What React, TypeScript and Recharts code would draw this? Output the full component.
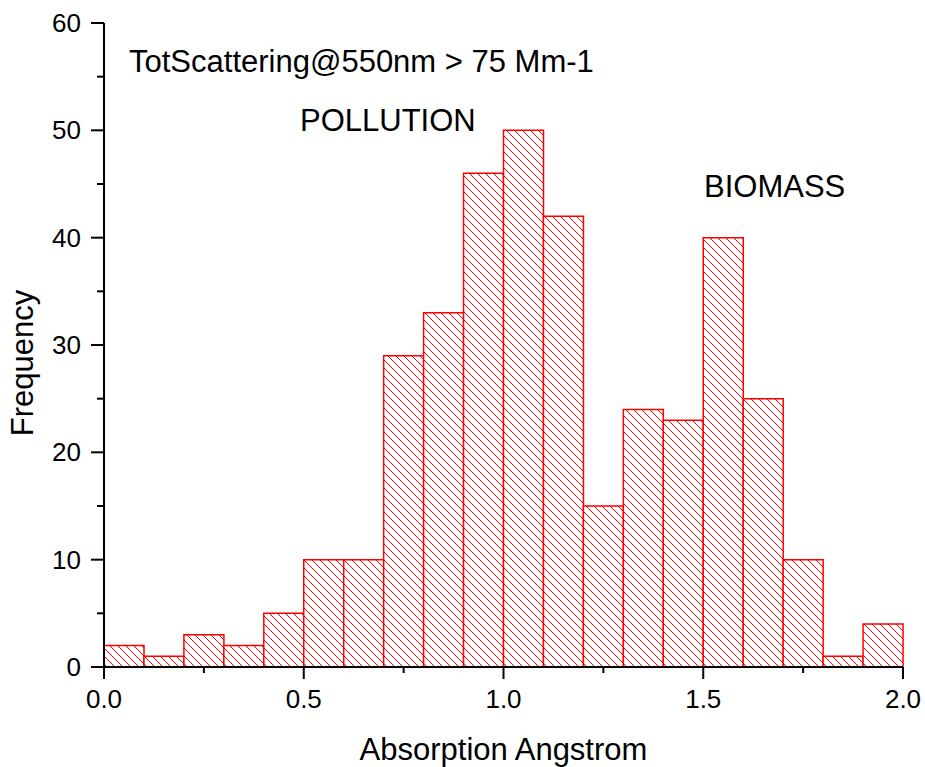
import { BarChart, Bar, XAxis, YAxis, Label } from "recharts";

// histogram bins (centre of each 0.1-wide bin) and their counts
const binCenters = [
  0.05, 0.15, 0.25, 0.35, 0.45, 0.55, 0.65, 0.75, 0.85, 0.95,
  1.05, 1.15, 1.25, 1.35, 1.45, 1.55, 1.65, 1.75, 1.85, 1.95,
];
const frequencies = [2, 1, 3, 2, 5, 10, 10, 29, 33, 46, 50, 42, 15, 24, 23, 40, 25, 10, 1, 4];

const xTicks = [0, 0.25, 0.5, 0.75, 1, 1.25, 1.5, 1.75, 2];
const yTicks = [0, 5, 10, 15, 20, 25, 30, 35, 40, 45, 50, 55, 60];

const xTitle = "Absorption Angstrom";
const yTitle = "Frequency";
const noteText = "TotScattering@550nm > 75 Mm-1";
const pollutionText = "POLLUTION";
const biomassText = "BIOMASS";

const RED = "#ff0000";
const FONT = "'Liberation Sans', Arial, sans-serif";

const data = binCenters.map((x, i) => ({ x, count: frequencies[i] }));

const isMajorX = (v: number) => Math.abs(v * 2 - Math.round(v * 2)) < 1e-6;
const isMajorY = (v: number) => v % 10 === 0;

// bottom axis: ticks point outward, labels on majors
const BottomTick = (props: any) => {
  const { x, y, payload } = props;
  const major = isMajorX(payload.value);
  return (
    <g>
      <line x1={x} x2={x} y1={y} y2={y + (major ? 12 : 6)} stroke="#000" strokeWidth={2} />
      {major && (
        <text x={x} y={y + 41} textAnchor="middle" fontSize={26} fill="#000">
          {Number(payload.value).toFixed(1)}
        </text>
      )}
    </g>
  );
};

const LeftTick = (props: any) => {
  const { x, y, payload } = props;
  const major = isMajorY(payload.value);
  return (
    <g>
      <line x1={x - (major ? 13 : 7)} x2={x} y1={y} y2={y} stroke="#000" strokeWidth={2} />
      {major && (
        <text x={x - 23} y={y + 9} textAnchor="end" fontSize={26} fill="#000">
          {payload.value}
        </text>
      )}
    </g>
  );
};

// mirrored axes: ticks point inward, no labels
const TopTick = (props: any) => {
  const { x, y, payload } = props;
  const len = isMajorX(payload.value) ? 12 : 6;
  return <line x1={x} x2={x} y1={y} y2={y + len} stroke="#000" strokeWidth={2} />;
};

const RightTick = (props: any) => {
  const { x, y, payload } = props;
  const len = isMajorY(payload.value) ? 13 : 7;
  return <line x1={x - len} x2={x} y1={y} y2={y} stroke="#000" strokeWidth={2} />;
};

export default function App() {
  return (
    <div style={{ position: "absolute", left: 0, top: 0, width: 925, height: 767, fontFamily: FONT }}>
      <BarChart
        width={925}
        height={767}
        data={data}
        margin={{ top: 23, right: 22, bottom: 0, left: 0 }}
        barCategoryGap={0}
        barGap={0}
      >
        <defs>
          <pattern id="hatch" patternUnits="userSpaceOnUse" width={8} height={8}>
            <rect width={8} height={8} fill="#fff" />
            <path d="M0,0 L8,8 M-2,6 L2,10 M6,-2 L10,2" stroke={RED} strokeWidth={1} />
          </pattern>
        </defs>
        <XAxis
          type="number"
          dataKey="x"
          domain={[0, 2]}
          ticks={xTicks}
          interval={0}
          height={100}
          tickSize={0}
          tickMargin={0}
          tickLine={false}
          tick={<BottomTick />}
          axisLine={{ stroke: "#000", strokeWidth: 2 }}
        >
          <Label
            content={(p: any) => {
              const vb = p.viewBox;
              return (
                <text x={vb.x + vb.width / 2} y={vb.y + 93} textAnchor="middle" fontSize={31} fill="#000">
                  {xTitle}
                </text>
              );
            }}
          />
        </XAxis>
        <XAxis
          xAxisId="top"
          orientation="top"
          type="number"
          dataKey="x"
          domain={[0, 2]}
          ticks={xTicks}
          interval={0}
          height={0}
          tickSize={0}
          tickMargin={0}
          tickLine={false}
          tick={<TopTick />}
          axisLine={{ stroke: "#000", strokeWidth: 2 }}
        />
        <YAxis
          type="number"
          domain={[0, 60]}
          ticks={yTicks}
          interval={0}
          width={104}
          tickSize={0}
          tickMargin={0}
          tickLine={false}
          tick={<LeftTick />}
          axisLine={{ stroke: "#000", strokeWidth: 2 }}
        >
          <Label
            content={(p: any) => {
              const vb = p.viewBox;
              const cx = 33;
              const cy = vb.y + vb.height / 2 + 18;
              return (
                <text
                  x={cx}
                  y={cy}
                  transform={`rotate(-90, ${cx}, ${cy})`}
                  textAnchor="middle"
                  fontSize={31}
                  fill="#000"
                >
                  {yTitle}
                </text>
              );
            }}
          />
        </YAxis>
        <YAxis
          yAxisId="right"
          orientation="right"
          type="number"
          domain={[0, 60]}
          ticks={yTicks}
          interval={0}
          width={0}
          tickSize={0}
          tickMargin={0}
          tickLine={false}
          tick={<RightTick />}
          axisLine={{ stroke: "#000", strokeWidth: 2 }}
        />
        <Bar
          dataKey="count"
          fill="url(#hatch)"
          stroke={RED}
          strokeWidth={1.5}
          isAnimationActive={false}
        />
        <text x={129} y={72} fontSize={31} fill="#000">{noteText}</text>
        <text x={300} y={131} fontSize={31} fill="#000">{pollutionText}</text>
        <text x={704} y={197} fontSize={31} fill="#000">{biomassText}</text>
      </BarChart>
    </div>
  );
}
